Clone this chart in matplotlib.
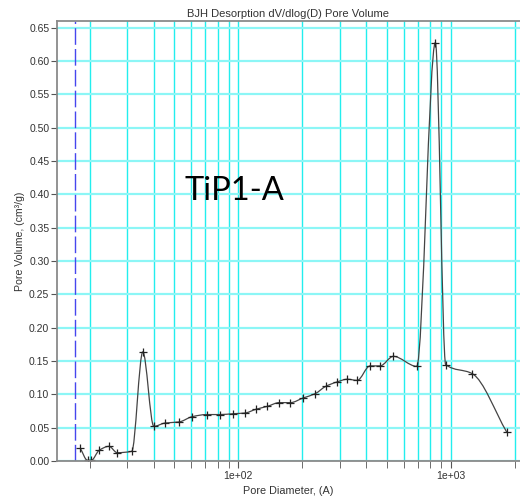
import numpy as np
import matplotlib.pyplot as plt
from matplotlib.path import Path
from matplotlib.patches import PathPatch
from matplotlib.ticker import FixedLocator, NullFormatter

# pore diameter (A) and dV/dlog(D) pore volume (cm3/g)
diam = [18.0, 19.5, 20.3, 22.1, 24.6, 26.9, 31.5, 35.5, 40.0, 45.2, 52.6, 60.7,
        71.0, 82.0, 94.7, 107.5, 121, 137, 156, 176, 202, 230, 258, 292, 326,
        363, 417, 465, 537, 692, 847, 947, 1264, 1835]
vol = [0.0195, 0.001, 0.001, 0.016, 0.022, 0.0125, 0.0145, 0.1637, 0.052, 0.057,
       0.0586, 0.0666, 0.0697, 0.0697, 0.071, 0.072, 0.0776, 0.082, 0.0876,
       0.0876, 0.0946, 0.101, 0.112, 0.1187, 0.1227, 0.121, 0.1427, 0.1427,
       0.157, 0.142, 0.6276, 0.1447, 0.131, 0.0435]
yticks = [0.00, 0.05, 0.10, 0.15, 0.20, 0.25, 0.30, 0.35, 0.40, 0.45, 0.50, 0.55, 0.60, 0.65]
cutoff = 17.0

plt.rcParams['font.family'] = ['Liberation Sans', 'DejaVu Sans']
txt = '#333333'
fig = plt.figure(figsize=(5.2, 4.97), dpi=100)
ax = fig.add_axes([0.1096, 0.0724, 0.8904, 0.8853])
ax.set_xscale('log')
ax.set_xlim(14.0, 2120)
ax.set_ylim(0, 0.66)

# grid
minors = [v * d for d in (10, 100) for v in range(2, 10) if v * d > 14] + [2000]
ax.xaxis.set_major_locator(FixedLocator([100, 1000]))
ax.xaxis.set_minor_locator(FixedLocator(minors))
ax.xaxis.set_minor_formatter(NullFormatter())
ax.set_xticklabels(['1e+02', '1e+03'])
ax.set_yticks(yticks)
ax.set_yticklabels(['%.2f' % t for t in yticks])
ax.grid(True, which='both', axis='x', color='#22eeee', lw=1.0)
ax.grid(True, which='major', axis='y', color='#8cf6f6', lw=1.6)
ax.set_axisbelow(True)

ax.axvline(cutoff, color='#4646ee', lw=1.0, dashes=(12, 3))

# smooth curve through the points (monotone cubic in log-x space)
lx = np.log10(diam)
y = np.array(vol)
h = np.diff(lx)
s = np.diff(y) / h
m = np.zeros(len(y))
m[0], m[-1] = s[0], s[-1]
for i in range(1, len(y) - 1):
    if s[i - 1] * s[i] > 0:
        w1, w2 = 2 * h[i] + h[i - 1], h[i] + 2 * h[i - 1]
        m[i] = (w1 + w2) / (w1 / s[i - 1] + w2 / s[i])
verts = [(diam[0], vol[0])]
codes = [Path.MOVETO]
for i in range(len(y) - 1):
    c1 = (lx[i] + h[i] / 3, y[i] + m[i] * h[i] / 3)
    c2 = (lx[i + 1] - h[i] / 3, y[i + 1] - m[i + 1] * h[i] / 3)
    verts += [(10 ** c1[0], c1[1]), (10 ** c2[0], c2[1]), (diam[i + 1], vol[i + 1])]
    codes += [Path.CURVE4] * 3
ax.add_patch(PathPatch(Path(verts, codes), fill=False, ec='#444444', lw=0.9))
ax.plot(diam, vol, ls='none', marker='+', ms=6, mew=0.9, color='#222222')

ax.spines['right'].set_visible(False)
for s_ in ['left', 'bottom', 'top']:
    ax.spines[s_].set_color('#8a8a8a')
    ax.spines[s_].set_linewidth(1.3)
ax.tick_params(which='both', direction='out', color='#555555', labelcolor=txt,
               labelsize=7.5, length=4, pad=1.5)
ax.tick_params(axis='x', which='both', length=5, pad=2)

ax.set_xlabel('Pore Diameter, (A)', fontsize=7.8, color=txt, labelpad=4)
ax.set_ylabel('Pore Volume, (cm³/g)', fontsize=7.6, color=txt, labelpad=3)
ax.set_title('BJH Desorption dV/dlog(D) Pore Volume', fontsize=8, color=txt, pad=3)
ax.text(0.276, 0.593, 'TiP1-A', transform=ax.transAxes, fontsize=23.5,
        family='Lato', color='black', va='baseline')

fig.savefig('out.png', dpi=100)
